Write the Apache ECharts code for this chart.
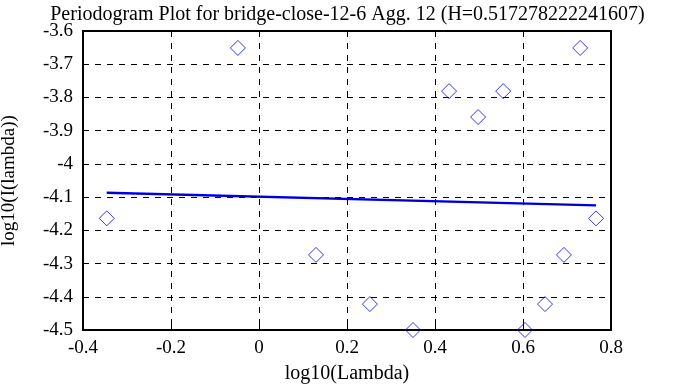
<!DOCTYPE html>
<html><head><meta charset="utf-8">
<script src="https://cdn.jsdelivr.net/npm/echarts@6/dist/echarts.min.js"></script>
<style>html,body{margin:0;padding:0;background:#fff}#c{width:695px;height:387px}</style>
</head><body><div id="c"></div>
<script>
var logLambda = [-0.346, -0.048, 0.1295, 0.252, 0.35, 0.432, 0.498, 0.555, 0.6045, 0.65, 0.693, 0.73, 0.766];
var logI = [-4.164, -3.651, -4.274, -4.422, -4.5, -3.781, -3.859, -3.781, -4.5, -4.422, -4.274, -3.651, -4.164];
var fitX = [-0.346, 0.766];
var fitY = [-4.087, -4.125];
var xTicks = {min: -0.4, max: 0.8, interval: 0.2};
var yTicks = {min: -4.5, max: -3.6, interval: 0.1};

var font = 'Liberation Serif';
var chart = echarts.init(document.getElementById('c'));
chart.setOption({
  animation: false,
  title: {text: 'Periodogram Plot for bridge-close-12-6 Agg. 12 (H=0.517278222241607)', left: 'center', top: 0,
    textStyle: {fontFamily: font, fontSize: 20, fontWeight: 'normal', color: '#000'}},
  grid: {left: 83, right: 84, top: 31, bottom: 57, show: true, borderColor: '#000', borderWidth: 2,
    containLabel: false, outerBoundsMode: 'none'},
  xAxis: {type: 'value', min: xTicks.min, max: xTicks.max, interval: xTicks.interval,
    name: 'log10(Lambda)', nameLocation: 'middle', nameGap: 34,
    nameTextStyle: {fontFamily: font, fontSize: 20, color: '#000'},
    axisLine: {show: true, onZero: false, lineStyle: {color: '#000', width: 2}},
    axisTick: {show: true, inside: true, length: 6, lineStyle: {color: '#000'}},
    axisLabel: {fontFamily: font, fontSize: 19, color: '#000', margin: 9,
      formatter: function(v){return +v.toFixed(1) + '';}},
    splitLine: {show: true, lineStyle: {color: '#000', type: [6, 6], width: 1}}},
  yAxis: {type: 'value', min: yTicks.min, max: yTicks.max, interval: yTicks.interval,
    name: 'log10(I(lambda))', nameLocation: 'middle', nameGap: 64, nameRotate: 90,
    nameTextStyle: {fontFamily: font, fontSize: 19, color: '#000'},
    axisLine: {show: true, onZero: false, lineStyle: {color: '#000', width: 2}},
    axisTick: {show: true, inside: true, length: 6, lineStyle: {color: '#000'}},
    axisLabel: {fontFamily: font, fontSize: 19, color: '#000', margin: 10,
      formatter: function(v){return +v.toFixed(1) + '';}},
    splitLine: {show: true, lineStyle: {color: '#000', type: [6, 6], width: 1}}},
  series: [
    {type: 'scatter', data: logLambda.map(function(x, i){return [x, logI[i]];}),
      symbol: 'diamond', symbolSize: 15, clip: false,
      itemStyle: {color: 'rgba(0,0,0,0)', borderColor: '#0000ff', borderWidth: 1}},
    {type: 'line', data: fitX.map(function(x, i){return [x, fitY[i]];}), symbol: 'none',
      lineStyle: {color: '#0000ff', width: 2.4}},
    {type: 'line', data: fitX.map(function(x, i){return [x, fitY[i]];}), symbol: 'none',
      lineStyle: {color: '#000', width: 0.4, opacity: 0.8}}
  ]
});
</script></body></html>
